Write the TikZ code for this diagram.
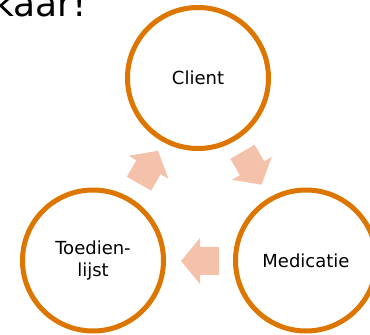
\documentclass[tikz,border=0pt]{standalone}
\usepackage{fontspec}
\setmainfont{DejaVu Sans}
\usetikzlibrary{calc}

\definecolor{ringorange}{RGB}{221,118,0}
\definecolor{arrowpeach}{RGB}{244,193,170}

\tikzset{
  stage/.style={circle, draw=ringorange, line width=5pt, fill=white,
    minimum size=141pt, inner sep=0pt, align=center, text=black,
    font=\fontsize{18}{21.6}\selectfont},
  title/.style={anchor=base west, inner sep=0pt, text=black,
    font=\fontsize{36}{42}\selectfont},
  pics/cyclearrow/.style={code={
    \fill[arrowpeach] (-19,14) -- (0,14) -- (0,23) -- (19,0)
      -- (0,-23) -- (0,-14) -- (-19,-14) -- cycle;}},
}

\begin{document}
\begin{tikzpicture}[x=1pt, y=1pt]
  \useasboundingbox (0,0) rectangle (370,335);
  \clip (0,0) rectangle (370,335);

  % heading, running off the top-left edge
  \node[title] (heading) at (-7,318.5) {kaar!};

  % the three stages of the cycle
  \node[stage] (client)   at (198,257)  {Client};
  \node[stage] (medicatie) at (306,74.5) {Medicatie};
  \node[stage] (toedien)  at (93,74.5)  {Toedien-\\lijst};

  % block arrows between the stages
  \pic[rotate=60]  at ($(toedien)!0.5!(client)+(3,2)$)   {cyclearrow};
  \pic[rotate=-60] at ($(client)!0.5!(medicatie)+(0,1)$) {cyclearrow};
  \pic[rotate=180] at ($(medicatie)!0.5!(toedien)+(0.5,-0.5)$) {cyclearrow};
\end{tikzpicture}
\end{document}
